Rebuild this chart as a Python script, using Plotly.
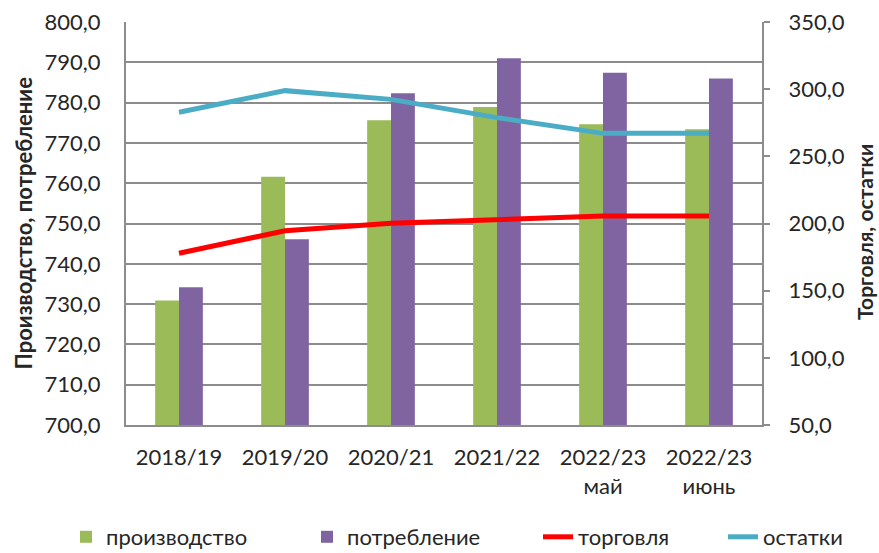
import plotly.graph_objects as go

categories = ["2018/19", "2019/20", "2020/21", "2021/22", "2022/23<br>май", "2022/23<br>июнь"]
production = [730.9, 761.6, 775.6, 778.9, 774.6, 773.4]
consumption = [734.2, 746.1, 782.3, 791.0, 787.4, 786.0]
trade = [177.8, 194.6, 200.1, 202.4, 205.6, 205.6]
stocks = [282.8, 298.9, 292.4, 278.8, 267.1, 267.1]

FONT = "Lato"
TXT = "#262626"
L, R, T, B = 126, 117, 22, 128
W, H = 879, 553
PW = W - L - R
PH = H - T - B

fig = go.Figure()
fig.add_trace(go.Bar(x=categories, y=production, name="производство", legend="legend",
                     marker=dict(color="#9BBB59", line=dict(width=0))))
fig.add_trace(go.Bar(x=categories, y=consumption, name="потребление", legend="legend2",
                     marker=dict(color="#8064A2", line=dict(width=0))))
fig.add_trace(go.Scatter(x=categories, y=trade, name="торговля", yaxis="y2", legend="legend3",
                         mode="lines", line=dict(color="#FF0000", width=5)))
fig.add_trace(go.Scatter(x=categories, y=stocks, name="остатки", yaxis="y2", legend="legend4",
                         mode="lines", line=dict(color="#4BACC6", width=5)))

leg_y = -(H + 5 - (T + PH)) / PH
def leg(px):
    return dict(orientation="h", x=(px - L) / PW, xanchor="left", y=leg_y, yanchor="bottom",
                font=dict(size=22, family=FONT, color=TXT), bgcolor="rgba(0,0,0,0)")

fig.update_layout(
    width=W, height=H,
    margin=dict(l=L, r=R, t=T, b=B, autoexpand=False),
    paper_bgcolor="white", plot_bgcolor="white",
    separators=", ",
    font=dict(family=FONT, size=22, color=TXT),
    barmode="group", bargap=0.55, bargroupgap=0,
    showlegend=True,
    legend=leg(66), legend2=leg(307), legend3=leg(538), legend4=leg(723),
    xaxis=dict(showgrid=False, showline=True, linecolor="#8C8C8C", linewidth=2, automargin=False,
               ticks="", tickfont=dict(size=22), ticklabelstandoff=12),
    yaxis=dict(range=[700, 800], dtick=10, tickformat=".1f", automargin=False,
               showgrid=True, gridcolor="#8C8C8C", gridwidth=1.5,
               showline=True, linecolor="#8C8C8C", linewidth=2,
               ticks="", tickfont=dict(size=22), zeroline=False, ticklabelstandoff=19),
    yaxis2=dict(range=[50, 350], dtick=50, tickformat=".1f", overlaying="y", side="right",
                automargin=False,
                showgrid=False, showline=True, linecolor="#8C8C8C", linewidth=2,
                ticks="outside", ticklen=6, tickcolor="#8C8C8C", tickwidth=2,
                tickfont=dict(size=22), zeroline=False, ticklabelstandoff=14),
    annotations=[
        dict(text="<b>Производство, потребление</b>", textangle=-90, xref="paper", yref="paper",
             x=0, y=0.5, xshift=23 - L, showarrow=False, xanchor="center", yanchor="middle",
             font=dict(size=22, family=FONT, color=TXT)),
        dict(text="<b>Торговля, остатки</b>", textangle=-90, xref="paper", yref="paper",
             x=1, y=(T + PH - 232) / PH, xshift=864 - (L + PW), showarrow=False,
             xanchor="center", yanchor="middle",
             font=dict(size=21, family=FONT, color=TXT)),
    ],
)

fig.write_html("out.html", config={"displayModeBar": False})
with open("out.html", encoding="utf-8") as f:
    html = f.read()
html = html.replace("<body>", '<body style="margin:0;padding:0;overflow:hidden">', 1)
with open("out.html", "w", encoding="utf-8") as f:
    f.write(html)
